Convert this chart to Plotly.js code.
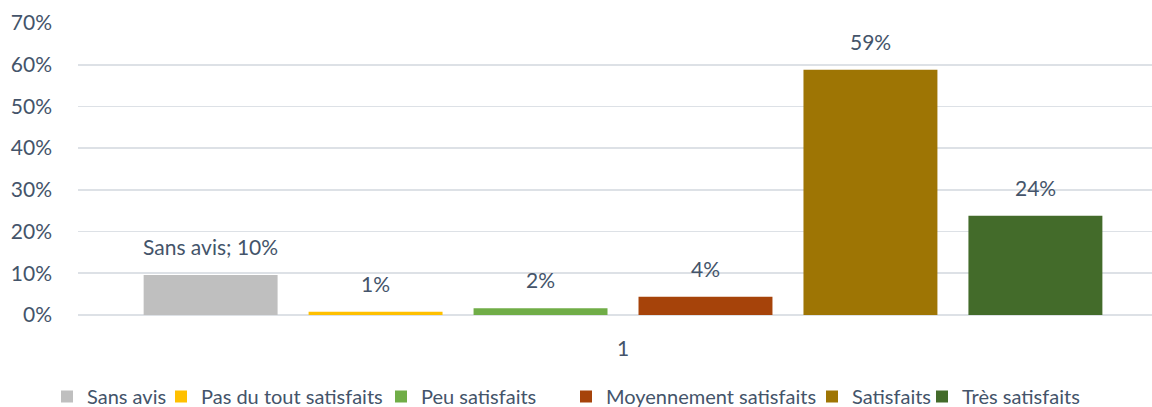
<!DOCTYPE html>
<html>
<head>
<meta charset="utf-8">
<script src="https://cdn.plot.ly/plotly-3.0.1.min.js"></script>
<style>
  html, body { margin: 0; padding: 0; background: #fff; overflow: hidden; }
  #chart { width: 1152px; height: 407px; }
</style>
</head>
<body>
<div id="chart"></div>
<script>
// data
const category = ['1'];
const seriesNames = ['Sans avis', 'Pas du tout satisfaits', 'Peu satisfaits',
                     'Moyennement satisfaits', 'Satisfaits', 'Très satisfaits'];
const seriesValues = [0.096, 0.008, 0.016, 0.044, 0.588, 0.238];
const seriesColors = ['#bfbfbf', '#ffc000', '#70ad47', '#a6430a', '#9e7504', '#436b2a'];
const yTicks = [0, 0.1, 0.2, 0.3, 0.4, 0.5, 0.6, 0.7];
// x (px) where each legend entry's text starts
const legendTextLeft = [88, 202, 422, 607, 853, 963];

const textColor = '#44546a';
const fontFam = 'Lato, "Open Sans", sans-serif';
const fs = 21;
const bargap = 0.092;
const nSeries = seriesNames.length;
const W = 1152, H = 407;
const plotTop = 23, plotBottom = 315;

// one legend per series so entries can sit where the original had them
const legendId = i => (i === 0 ? 'legend' : 'legend' + (i + 1));

const traces = seriesNames.map((name, i) => ({
    type: 'bar',
    name: name,
    x: category,
    y: [seriesValues[i]],
    marker: { color: seriesColors[i], line: { width: 0 } },
    legend: legendId(i),
    hoverinfo: 'skip'
}));

// data labels placed over each bar of the group
const slot = (1 - bargap) / nSeries;
const annotations = seriesValues.map((v, i) => {
    const pct = Math.round(v * 100) + '%';
    return {
        xref: 'x', yref: 'y',
        x: -(1 - bargap) / 2 + slot * (i + 0.5),
        y: v,
        text: i === 0 ? seriesNames[i] + '; ' + pct : pct,
        showarrow: false,
        yanchor: 'bottom',
        yshift: 14,
        font: { family: fontFam, size: fs, color: textColor }
    };
});

const layout = {
    width: W, height: H,
    margin: { l: 78, r: 0, t: plotTop, b: H - plotBottom, autoexpand: false },
    paper_bgcolor: '#fff', plot_bgcolor: '#fff',
    barmode: 'group',
    bargap: bargap,
    bargroupgap: 0.188,
    font: { family: fontFam, size: fs, color: textColor },
    xaxis: {
        type: 'category',
        range: [-0.5, 0.4853],
        showgrid: false, zeroline: false, showline: false,
        ticks: '', ticklabelstandoff: 19,
        tickfont: { family: fontFam, size: fs, color: textColor }
    },
    yaxis: {
        range: [0, 0.7],
        tickvals: yTicks,
        tickformat: '.0%',
        showgrid: true, gridcolor: '#dde1e6', gridwidth: 1.6,
        zeroline: true, zerolinecolor: '#dde1e6', zerolinewidth: 1.6,
        showline: false, ticks: '', ticklabelstandoff: 25,
        tickfont: { family: fontFam, size: fs, color: textColor }
    },
    showlegend: true,
    annotations: annotations
};

seriesNames.forEach((name, i) => {
    layout[legendId(i)] = {
        orientation: 'h',
        xref: 'container', x: (legendTextLeft[i] - 41) / W, xanchor: 'left',
        yref: 'paper', y: -(377 - plotBottom) / (plotBottom - plotTop), yanchor: 'top',
        font: { family: fontFam, size: 20, color: textColor },
        bgcolor: 'rgba(0,0,0,0)',
        itemwidth: 30
    };
});

Plotly.newPlot('chart', traces, layout, { displayModeBar: false, staticPlot: true });
</script>
</body>
</html>
